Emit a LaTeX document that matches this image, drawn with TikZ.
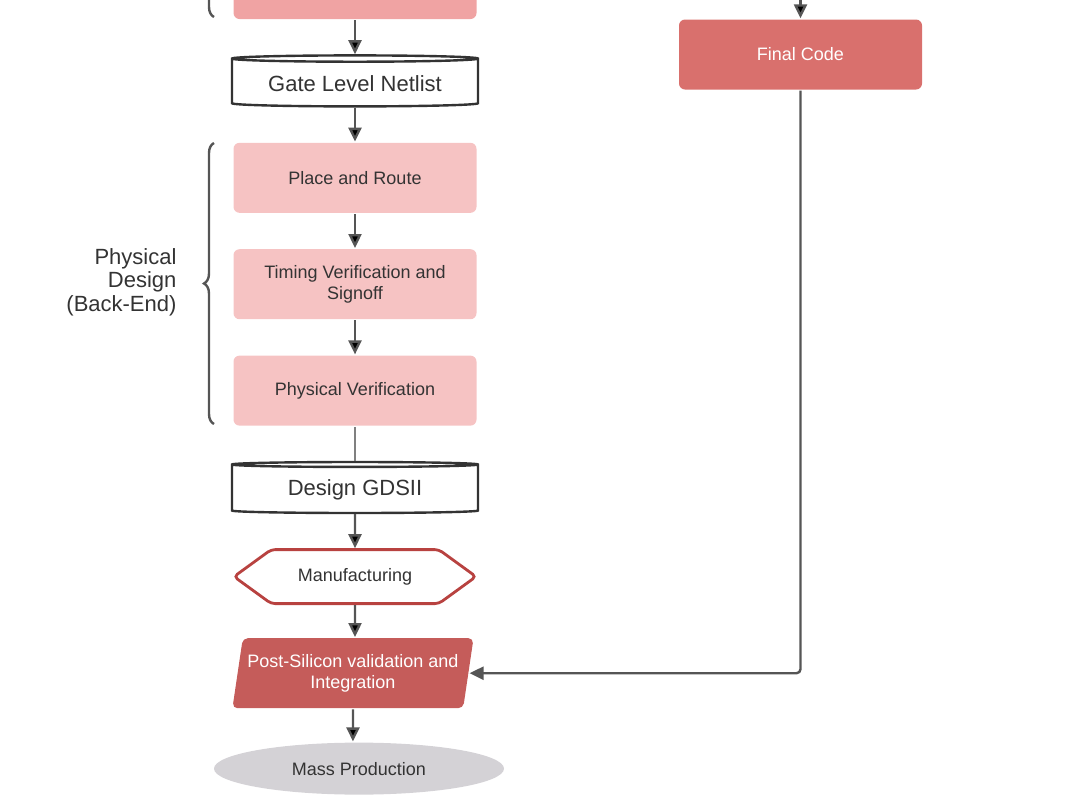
\documentclass[tikz,border=0pt]{standalone}
\usepackage{fontspec}
\setmainfont{Liberation Sans}
\usepackage{xcolor}
\usepackage{tikz}
\usetikzlibrary{arrows.meta, positioning, shapes.geometric, shapes.symbols, decorations.pathreplacing}

\definecolor{synpink}{HTML}{F0A3A3}
\definecolor{lightpink}{HTML}{F6C3C3}
\definecolor{codered}{HTML}{D9706D}
\definecolor{postred}{HTML}{C55C5A}
\definecolor{hexred}{HTML}{B84240}
\definecolor{massgray}{HTML}{D4D2D6}
\definecolor{linegray}{HTML}{555555}
\definecolor{textgray}{HTML}{333333}

\begin{document}
\begin{tikzpicture}[x=1pt,y=-1pt,->,>={Triangle[length=14pt,width=13pt]},
  node distance=34pt,line width=2.4pt,
  stepbox/.style={rectangle,rounded corners=6pt,fill=lightpink,minimum width=243pt,
    minimum height=70pt,align=center,text=textgray,font=\fontsize{18}{21}\selectfont},
  storebox/.style={cylinder,shape border rotate=90,aspect=0.035,draw=textgray,fill=white,
    minimum width=246pt,minimum height=51pt,text=textgray,font=\fontsize{22}{24}\selectfont},
  hexbox/.style={signal,signal to=east and west,signal pointer angle=72,draw=hexred,
    line width=2.8pt,fill=white,rounded corners=4pt,minimum width=242pt,minimum height=54pt,
    text=textgray,font=\fontsize{18}{21}\selectfont},
  postbox/.style={trapezium,trapezium left angle=77,trapezium right angle=103,
    trapezium stretches=true,rounded corners=5pt,fill=postred,minimum width=242pt,
    minimum height=70pt,align=center,text=white,font=\fontsize{18}{21}\selectfont},
  endbox/.style={ellipse,fill=massgray,minimum width=290pt,minimum height=52pt,
    text=textgray,font=\fontsize{18}{21}\selectfont},
  flow/.style={draw=linegray}]

  \useasboundingbox (0,0) rectangle (1072,801);
  \clip (0,0) rectangle (1072,801);

  % left column
  \node[stepbox,fill=synpink] (syn) at (355,-16) {};
  \node[storebox] (netlist) [below=of syn] {Gate Level Netlist};
  \node[stepbox] (pr) [below=of netlist] {Place and Route};
  \node[stepbox] (tv) [below=of pr] {Timing Verification and\\Signoff};
  \node[stepbox] (pv) [below=of tv] {Physical Verification};
  \node[storebox] (gds) [below=of pv] {Design GDSII};
  \node[hexbox] (manuf) [below=of gds] {Manufacturing};
  \node[postbox] (post) [below=32pt of manuf,xshift=-2pt] {Post-Silicon validation and\\Integration};
  \node[endbox] (mass) [below=32pt of post,xshift=6pt] {Mass Production};

  % right column
  \node[stepbox,fill=codered,text=white] (code) at (800.5,54.5) {Final Code};
  \coordinate (codein) at (800.5,-30);

  % braces
  \coordinate (brbot) at (214,424);
  \coordinate (brtop) at (214,143);
  \coordinate (synbot) at (214,17);
  \coordinate (syntop) at (214,-300);
  \node[anchor=east,align=right,text=textgray,font=\fontsize{22}{23.5}\selectfont]
    (phys) at (181,282) {Physical\\Design\\(Back-End)};

  \path[flow]
    (syn) edge (netlist)
    (netlist) edge (pr)
    (pr) edge (tv)
    (tv) edge (pv)
    (gds) edge (manuf)
    (manuf) edge (manuf |- post.north)
    (post) edge (post |- mass.north)
    (codein) edge (code);
  \draw[-,draw=gray,line width=1.2pt] (pv) -- (gds);
  \draw[flow,rounded corners=4pt] (code) |- (post.east);

  \draw[-,draw=linegray,decorate,decoration={brace,amplitude=10pt}] (brbot) -- (brtop);
  \draw[-,draw=linegray,decorate,decoration={brace,amplitude=10pt}] (synbot) -- (syntop);
\end{tikzpicture}
\end{document}
